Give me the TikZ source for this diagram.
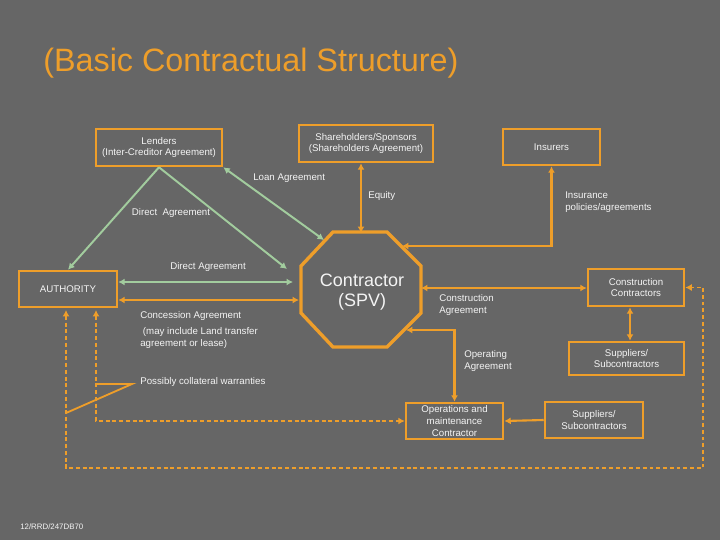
\documentclass[tikz,border=0pt]{standalone}
\usepackage{fontspec}
\setmainfont{Liberation Sans}
\usetikzlibrary{arrows.meta,calc}
\definecolor{slidegray}{HTML}{666666}
\definecolor{boxorange}{HTML}{EE9E2A}
\definecolor{linkgreen}{HTML}{A2CC9E}
\definecolor{labelwhite}{HTML}{F4F4F4}

\begin{document}
\begin{tikzpicture}[>={Latex[length=4.6pt,width=5pt]},x=0.025cm,y=-0.025cm,
  party/.style={draw=boxorange,line width=1.8pt,inner sep=0pt,align=center,
    text=labelwhite,font=\fontsize{6.9}{8.5}\selectfont},
  lbl/.style={text=labelwhite,inner sep=0pt,align=left,anchor=west,
    font=\fontsize{6.9}{8.5}\selectfont},
  greenlink/.style={linkgreen,line width=1.4pt},
  orangelink/.style={boxorange,line width=1.5pt},
  dashlink/.style={boxorange,line width=1.4pt,dash pattern=on 2.8pt off 2pt}]
  \fill[slidegray] (0,0) rectangle (720,540);
  \useasboundingbox (0,0) rectangle (720,540);

  \node[anchor=west,text=boxorange,inner sep=0pt,font=\fontsize{23}{26}\selectfont]
    (title) at (43,63) {(Basic Contractual Structure)};

  % parties
  \node[party,minimum width=3.15cm,minimum height=0.925cm] (lenders) at (159,147.5)
    {Lenders\\(Inter-Creditor Agreement)};
  \node[party,minimum width=3.35cm,minimum height=0.925cm] (sponsors) at (366,143.5)
    {Shareholders/Sponsors\\(Shareholders Agreement)};
  \node[party,minimum width=2.425cm,minimum height=0.9cm] (insurers) at (551.5,147) {Insurers};
  \node[party,minimum width=2.45cm,minimum height=0.9cm] (authority) at (68,289) {AUTHORITY};
  \node[party,minimum width=2.4cm,minimum height=0.925cm] (builders) at (636,287.5)
    {Construction\\Contractors};
  \node[party,minimum width=2.875cm,minimum height=0.825cm] (suppliersa) at (626.5,358.5)
    {Suppliers/\\Subcontractors};
  \node[party,minimum width=2.425cm,minimum height=0.9cm] (operator) at (454.5,421)
    {Operations and\\maintenance\\Contractor};
  \node[party,minimum width=2.45cm,minimum height=0.9cm] (suppliersb) at (594,420)
    {Suppliers/\\Subcontractors};

  % the SPV
  \draw[boxorange,line width=2.4pt,line join=miter] (333,232) -- (387,232) -- (421,266)
    -- (421,313) -- (387,347) -- (333,347) -- (301,313) -- (301,266) -- cycle;
  \node[text=labelwhite,align=center,inner sep=0pt,font=\fontsize{12.8}{14.2}\selectfont]
    (spv) at (362,292) {Contractor\\(SPV)};
  \coordinate (spvtop) at (361,233);
  \coordinate (spvright) at (421,288);
  \coordinate (loanend) at (324,240);
  \coordinate (directend) at (287,269);
  \coordinate (directend2) at (293,282);
  \coordinate (concessionend) at (299,300);
  \coordinate (insureend) at (402,246);
  \coordinate (operateend) at (406,330);

  % direct agreements and loan
  \draw[greenlink,->] (lenders.south) -- (authority.north);
  \draw[greenlink,->] (lenders.south) -- (directend);
  \draw[greenlink,<->] (lenders.south east) -- (loanend);
  \draw[greenlink,<->] (directend2 -| authority.east) -- (directend2);
  \draw[orangelink,<->] (concessionend -| authority.east) -- (concessionend);

  % sponsors, insurers, contractors
  \draw[orangelink,<->] (spvtop |- sponsors.south) -- (spvtop);
  \draw[orangelink,<->] (insurers.south) |- (insureend);
  \draw[orangelink,<->] (spvright) -- (spvright -| builders.west);
  \draw[orangelink,<->] (builders.south -| 630,0) -- (suppliersa.north -| 630,0);
  \draw[orangelink,<->] (operateend) -| (operator.north);
  \draw[orangelink,->] (suppliersb.west) -- (operator.east);

  % collateral warranties
  \coordinate (warrantyA) at (66,310);
  \coordinate (warrantyB) at (96,310);
  \coordinate (loopcorner) at (703,468);
  \draw[dashlink,<->] (warrantyB) |- (operator.west);
  \draw[dashlink,<->] (warrantyA) |- (loopcorner) |- (builders.east);
  \draw[boxorange,line width=1.3pt] (96,384) -- (132,384) -- (66,413);

  % labels
  \node[lbl] (loanlbl) at (253,178) {Loan Agreement};
  \node[lbl] (equitylbl) at (368,196) {Equity};
  \node[lbl] (insurelbl) at (565,202) {Insurance\\policies/agreements};
  \node[lbl,anchor=center] (directlbl) at (171,213) {Direct\ \ Agreement};
  \node[lbl,anchor=center] (directlbl2) at (208,267) {Direct Agreement};
  \node[lbl] (concessionlbl) at (140,316) {Concession Agreement};
  \node[lbl] (landlbl) at (140,338) {\ (may include Land transfer\\agreement or lease)};
  \node[lbl] (warrantylbl) at (140,382) {Possibly collateral warranties};
  \node[lbl] (buildlbl) at (439,305) {Construction\\Agreement};
  \node[lbl] (operatelbl) at (464,361) {Operating\\Agreement};
  \node[lbl,font=\fontsize{5.6}{6}\selectfont] (ref) at (20,527) {12/RRD/247DB70};
\end{tikzpicture}
\end{document}
